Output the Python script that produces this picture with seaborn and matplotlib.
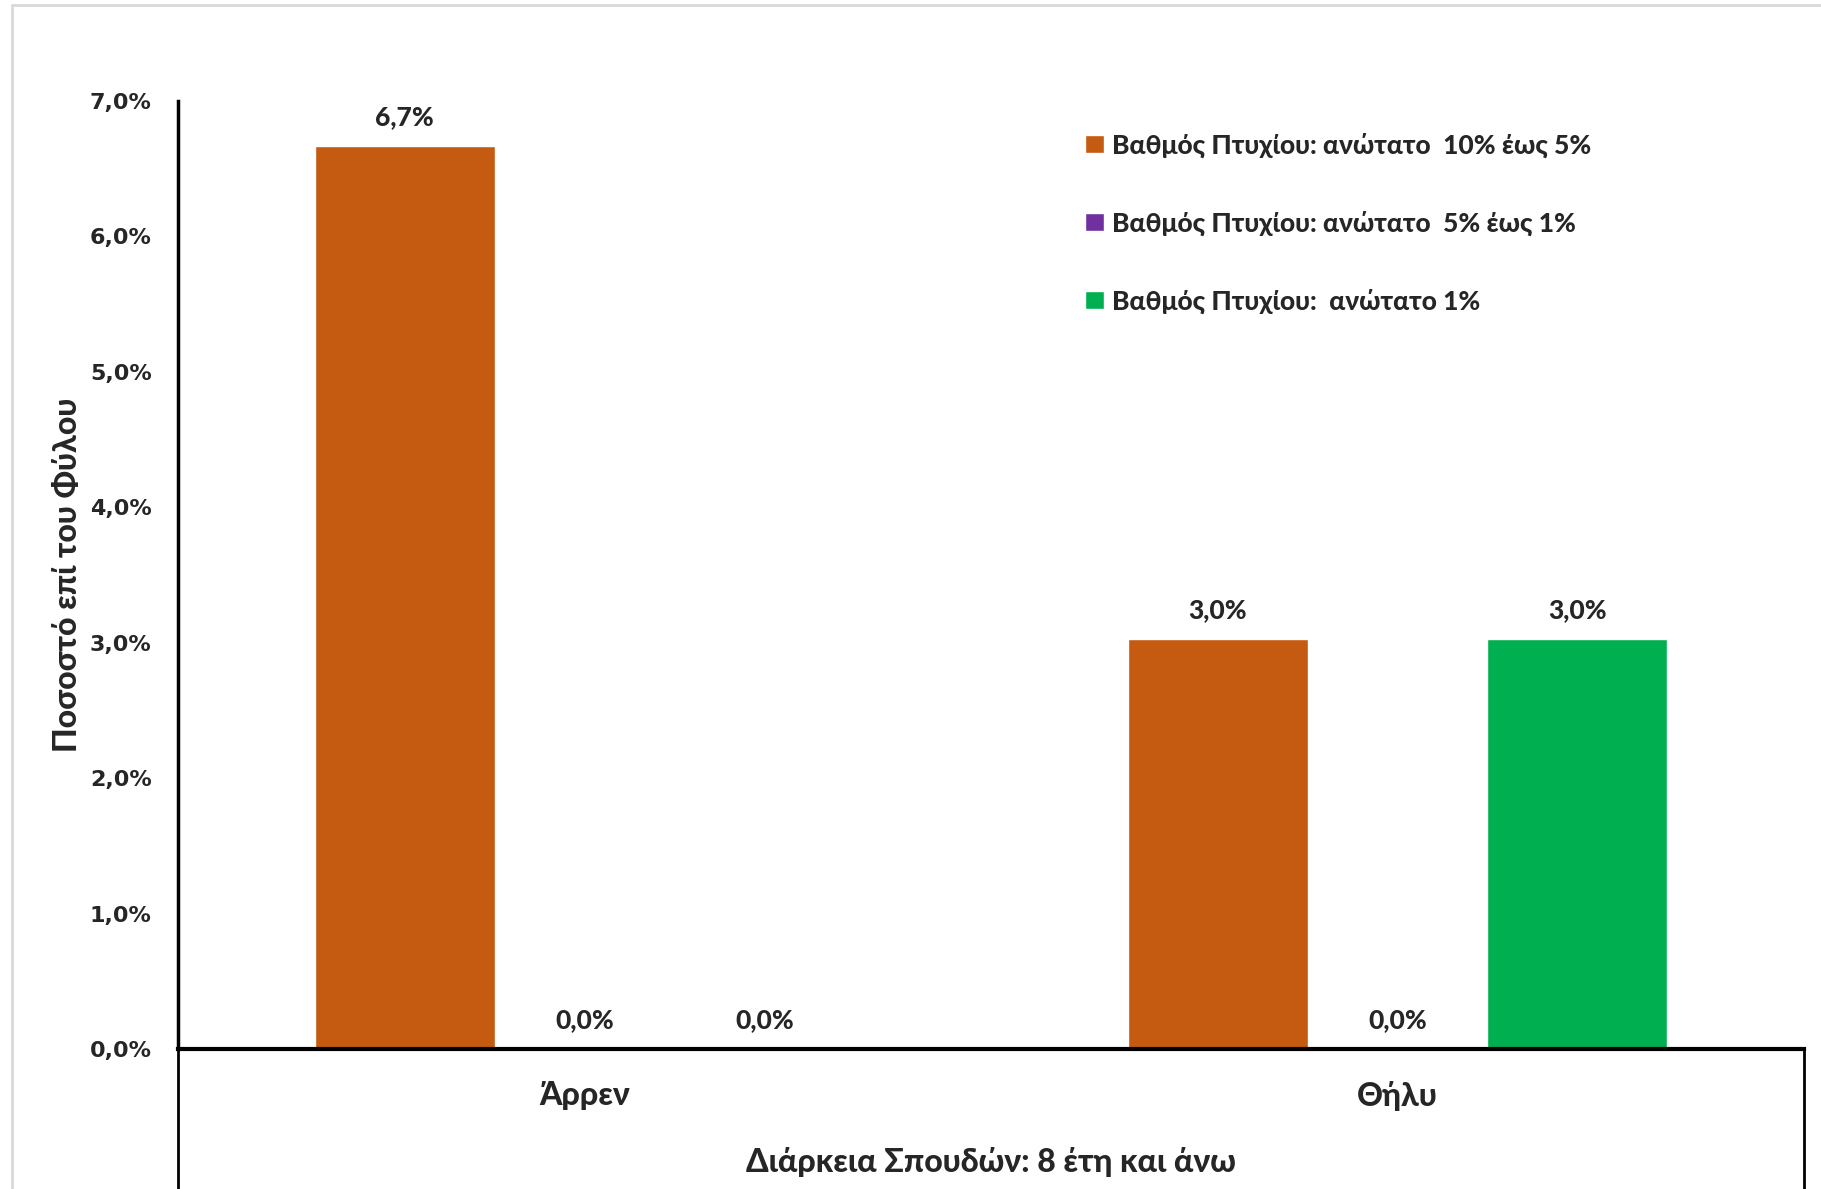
import pandas as pd
import numpy as np
import matplotlib
matplotlib.use('Agg')
import matplotlib.pyplot as plt
import seaborn as sns
from matplotlib.lines import Line2D

# -- Data --
genders = ['Άρρεν', 'Θήλυ']
grades = [
    'Βαθμός Πτυχίου: ανώτατο  10% έως 5%',
    'Βαθμός Πτυχίου: ανώτατο  5% έως 1%',
    'Βαθμός Πτυχίου:  ανώτατο 1%'
]
top_10_5 = [6.67, 3.03]
top_5_1 = [0.0, 0.0]
top_1 = [0.0, 3.03]
y_ticks = [0, 1, 2, 3, 4, 5, 6, 7]
group_title = 'Διάρκεια Σπουδών: 8 έτη και άνω'
y_title = 'Ποσοστό επί του Φύλου'
colors = ['#C55A11', '#7030A0', '#00B050']

df = pd.DataFrame({
    'gender': genders * 3,
    'grade': [g for g in grades for _ in genders],
    'pct': top_10_5 + top_5_1 + top_1
})

def pct(v):
    return f'{v:.1f}%'.replace('.', ',')

# -- Plot --
sns.set_style('white')
plt.rcParams['font.family'] = ['Lato', 'DejaVu Sans']
W = 900

fig = plt.figure(figsize=(18.21, 11.89), dpi=100)
ax = fig.add_axes([178/1821, 1 - 1049/1189, 1626/1821, 948/1189])

sns.barplot(
    data=df,
    x='gender',
    y='pct',
    hue='grade',
    order=genders,
    hue_order=grades,
    palette=colors,
    saturation=1,
    width=0.664,
    gap=0,
    errorbar=None,
    ax=ax
)

for cont in ax.containers:
    ax.bar_label(cont, labels=[pct(v) for v in cont.datavalues],
                 padding=12, fontsize=19, fontweight=W)

ax.set_xlim(-0.5, 1.5)
ax.set_ylim(0, 7)
ax.set_yticks(y_ticks)
ax.set_yticklabels([pct(t) for t in y_ticks], family='DejaVu Sans',
                   fontsize=16, fontweight='bold')
ax.tick_params(axis='y', length=0, pad=19)
ax.tick_params(axis='x', length=0, pad=23)
for lbl in ax.get_xticklabels():
    lbl.set_fontsize(23)
    lbl.set_fontweight(W)

ax.set_xlabel(group_title, fontsize=23, fontweight=W, labelpad=26)
ax.set_ylabel(y_title, fontsize=23, fontweight=W)
ax.yaxis.set_label_coords(-0.068, 0.5)
ax.yaxis.label.set_verticalalignment('center')

for s in ['top', 'right']:
    ax.spines[s].set_visible(False)
ax.spines['left'].set_linewidth(2.5)
ax.spines['bottom'].set_linewidth(3)
ax.spines['left'].set_color('black')
ax.spines['bottom'].set_color('black')

# category frame lines below the axis
for xx in [0, 1]:
    ax.plot([xx, xx], [0, -0.15], transform=ax.transAxes, color='black',
            lw=2, clip_on=False)

leg = ax.legend(loc='upper left', bbox_to_anchor=(0.550, 0.981), frameon=False,
                fontsize=19, handlelength=0.7, handleheight=0.7,
                handletextpad=0.3, labelspacing=2.0, borderpad=0)
for t in leg.get_texts():
    t.set_fontweight(W)

# chart area border
fig.add_artist(Line2D([12/1821, 12/1821], [0, 1 - 5/1189],
                      transform=fig.transFigure, color='#d9d9d9', lw=2))
fig.add_artist(Line2D([12/1821, 1], [1 - 5/1189, 1 - 5/1189],
                      transform=fig.transFigure, color='#d9d9d9', lw=2))

fig.savefig('out.png', dpi=100)
